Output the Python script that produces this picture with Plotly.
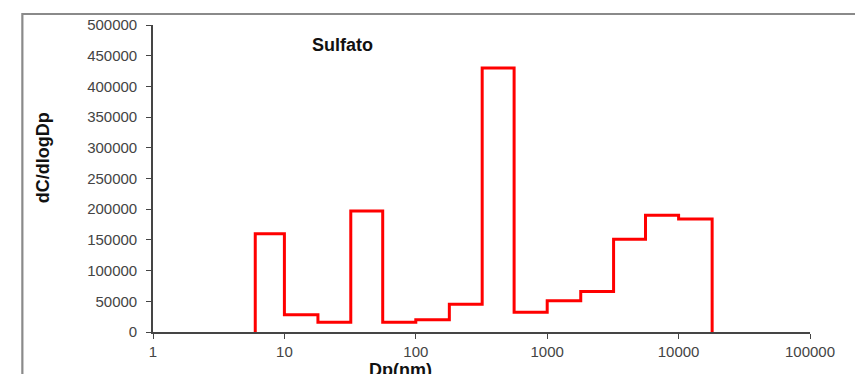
import plotly.graph_objects as go

# Impactor stage cut diameters (nm) and sulfate size distribution per stage
bin_edges_nm = [6, 10, 18, 32, 56, 100, 180, 320, 560, 1000, 1800, 3200, 5600, 10000, 18000]
dc_dlogdp = [160000, 28000, 16000, 197000, 16000, 20000, 45000, 430000,
             32000, 51000, 66000, 151000, 190000, 184000]

x_tick_vals = [1, 10, 100, 1000, 10000, 100000]
x_tick_text = ["1", "10", "100", "1000", "10000", "100000"]
y_tick_vals = [0, 50000, 100000, 150000, 200000, 250000, 300000, 350000, 400000, 450000, 500000]
y_tick_text = [str(v) for v in y_tick_vals]

# Step outline: rise at the first edge, hold each level across its stage, drop at the last edge
step_x = [bin_edges_nm[0]] + bin_edges_nm
step_y = [0] + dc_dlogdp + [0]

W, H = 855, 374
L, R, T, B = 152.7, 45, 25, 42
pw, ph = W - L - R, H - T - B


def px_to_paper(x=None, y=None):
    out = []
    if x is not None:
        out.append((x - L) / pw)
    if y is not None:
        out.append((H - B - y) / ph)
    return out if len(out) > 1 else out[0]


fig = go.Figure()
fig.add_trace(go.Scatter(
    x=step_x, y=step_y, mode="lines", line_shape="hv",
    line=dict(color="#ff0000", width=3), showlegend=False, hoverinfo="skip",
))

axis_color = "#454545"
tick_font = dict(family="Liberation Sans, Arial, sans-serif", size=15, color="#444444")
bold_font = dict(family="Liberation Sans, Arial, sans-serif", size=18, color="#111111")

fig.update_xaxes(
    type="log", range=[0, 5], tickvals=x_tick_vals, ticktext=x_tick_text,
    showgrid=False, zeroline=False, showline=True, linecolor=axis_color, linewidth=1.6,
    ticks="outside", ticklen=5, tickwidth=1.4, tickcolor=axis_color, tickfont=tick_font,
)
fig.update_yaxes(
    range=[0, 500000], tickvals=y_tick_vals, ticktext=y_tick_text,
    showgrid=False, zeroline=False, showline=True, linecolor=axis_color, linewidth=1.6,
    ticks="outside", ticklen=5, tickwidth=1.4, tickcolor=axis_color, tickfont=tick_font,
    ticklabelstandoff=6,
)

# Outer chart frame (top and left edges visible inside the page)
x0, y1 = px_to_paper(x=22, y=14)
fig.add_shape(type="rect", xref="paper", yref="paper",
              x0=x0, x1=px_to_paper(x=900, y=0)[0], y0=px_to_paper(x=0, y=420)[1], y1=y1,
              line=dict(color="#8a8a8a", width=2.2), fillcolor="rgba(0,0,0,0)", layer="below")

fig.add_annotation(text="<b>Sulfato</b>", xref="paper", yref="paper",
                   x=px_to_paper(x=342, y=0)[0], y=px_to_paper(x=0, y=45)[1],
                   showarrow=False, font=bold_font, xanchor="center", yanchor="middle")
fig.add_annotation(text="<b>Dp(nm)</b>", xref="paper", yref="paper",
                   x=px_to_paper(x=400, y=0)[0], y=px_to_paper(x=0, y=358)[1],
                   showarrow=False, font=bold_font, xanchor="center", yanchor="top")
fig.add_annotation(text="<b>dC/dlogDp</b>", xref="paper", yref="paper",
                   x=px_to_paper(x=43, y=0)[0], y=px_to_paper(x=0, y=158)[1],
                   showarrow=False, font=bold_font, textangle=-90,
                   xanchor="center", yanchor="middle")

fig.update_layout(
    width=W, height=H, margin=dict(l=L, r=R, t=T, b=B),
    paper_bgcolor="white", plot_bgcolor="white", showlegend=False,
)

fig.write_html("out.html")
